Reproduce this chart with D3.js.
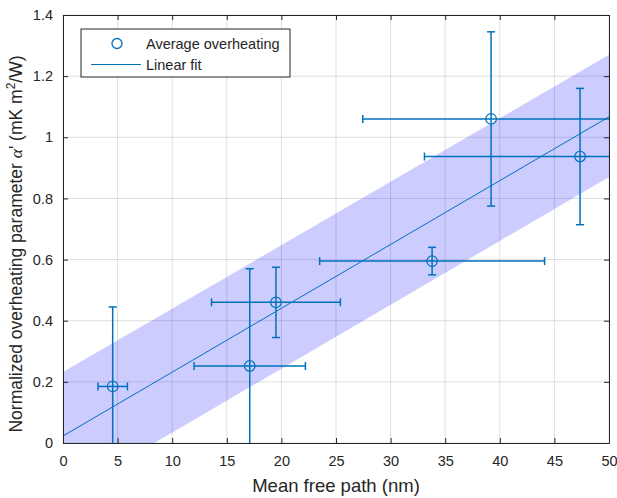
<!DOCTYPE html>
<html lang="en">
<head>
<meta charset="UTF-8">
<title>Overheating vs mean free path</title>
<script src="https://cdn.jsdelivr.net/npm/d3@7"></script>
<style>
*{margin:0; padding:0;}
body{background:#fff;}
text{font-family:"Liberation Sans", Arial, sans-serif; fill:#262626;}
.grid line{stroke:#000; stroke-opacity:.13;}
.axis path, .axis line{stroke:#262626;}
</style>
</head>
<body>
<script>
// measured points
var mfp      = [4.55, 17.1, 19.5, 33.8, 39.2, 47.35];
var alpha    = [0.185, 0.252, 0.46, 0.595, 1.06, 0.937];
var mfpErr   = [1.35, 5.1, 5.9, 10.3, 11.75, 14.25];
var alphaErr = [0.26, 0.318, 0.115, 0.045, 0.285, 0.223];

// linear fit and its confidence band
var fitX     = [0, 50];
var fitY     = [0.023, 1.067];
var bandLow  = [-0.175, 0.87];
var bandHigh = [0.232, 1.27];

var xTicks = [0, 5, 10, 15, 20, 25, 30, 35, 40, 45, 50];
var yTicks = [0, 0.2, 0.4, 0.6, 0.8, 1, 1.2, 1.4];

var width = 617, height = 498;
var m = {left: 63, top: 15, right: 8, bottom: 55};
var w = width - m.left - m.right, h = height - m.top - m.bottom;
var blue = "#0072BD";

var svg = d3.select("body").append("svg")
	.attr("width", width)
	.attr("height", height);

svg.append("defs").append("clipPath").attr("id", "clip")
	.append("rect").attr("width", w).attr("height", h);

var g = svg.append("g").attr("transform", "translate(" + m.left + "," + m.top + ")");

var x = d3.scaleLinear().domain([0, 50]).range([0, w]);
var y = d3.scaleLinear().domain([0, 1.4]).range([h, 0]);

// grid
var grid = g.append("g").attr("class", "grid");
grid.selectAll(".gx").data(xTicks).enter().append("line")
	.attr("x1", x).attr("x2", x).attr("y1", 0).attr("y2", h);
grid.selectAll(".gy").data(yTicks).enter().append("line")
	.attr("y1", y).attr("y2", y).attr("x1", 0).attr("x2", w);

var plot = g.append("g").attr("clip-path", "url(#clip)");

// band
var band = fitX.map(function(d, i){ return {x: d, lo: bandLow[i], hi: bandHigh[i]}; });
plot.append("path")
	.datum(band)
	.attr("fill", "#0000ff")
	.attr("fill-opacity", 0.2)
	.attr("d", d3.area().x(function(d){ return x(d.x); })
		.y0(function(d){ return y(d.lo); })
		.y1(function(d){ return y(d.hi); }));

// fit line
plot.append("path")
	.datum(fitX.map(function(d, i){ return [d, fitY[i]]; }))
	.attr("fill", "none")
	.attr("stroke", blue)
	.attr("stroke-width", 1)
	.attr("d", d3.line().x(function(d){ return x(d[0]); }).y(function(d){ return y(d[1]); }));

// error bars
var pts = mfp.map(function(d, i){
	return {x: d, y: alpha[i], ex: mfpErr[i], ey: alphaErr[i]};
});
var eb = plot.selectAll(".eb").data(pts).enter().append("g")
	.attr("stroke", blue).attr("stroke-width", 1.5).attr("fill", "none");
var cap = 4;
eb.append("line")
	.attr("x1", function(d){ return x(d.x); }).attr("x2", function(d){ return x(d.x); })
	.attr("y1", function(d){ return y(d.y - d.ey); }).attr("y2", function(d){ return y(d.y + d.ey); });
eb.append("line")
	.attr("y1", function(d){ return y(d.y); }).attr("y2", function(d){ return y(d.y); })
	.attr("x1", function(d){ return x(d.x - d.ex); }).attr("x2", function(d){ return x(d.x + d.ex); });
[-1, 1].forEach(function(s){
	eb.append("line")
		.attr("x1", function(d){ return x(d.x) - cap; }).attr("x2", function(d){ return x(d.x) + cap; })
		.attr("y1", function(d){ return y(d.y + s*d.ey); }).attr("y2", function(d){ return y(d.y + s*d.ey); });
	eb.append("line")
		.attr("y1", function(d){ return y(d.y) - cap; }).attr("y2", function(d){ return y(d.y) + cap; })
		.attr("x1", function(d){ return x(d.x + s*d.ex); }).attr("x2", function(d){ return x(d.x + s*d.ex); });
});
eb.append("circle")
	.attr("cx", function(d){ return x(d.x); })
	.attr("cy", function(d){ return y(d.y); })
	.attr("r", 5.3).attr("stroke-width", 1.2);

// axes (box with inward ticks)
function fmt(d){ return d3.format("~g")(d); }
var ax = [
	{a: d3.axisBottom(x).tickValues(xTicks).tickFormat(fmt).tickSizeInner(-5).tickSizeOuter(0), t: "translate(0," + h + ")"},
	{a: d3.axisTop(x).tickValues(xTicks).tickFormat("").tickSizeInner(-5).tickSizeOuter(0), t: "translate(0,0)"},
	{a: d3.axisLeft(y).tickValues(yTicks).tickFormat(fmt).tickSizeInner(-5).tickSizeOuter(0), t: "translate(0,0)"},
	{a: d3.axisRight(y).tickValues(yTicks).tickFormat("").tickSizeInner(-5).tickSizeOuter(0), t: "translate(" + w + ",0)"}
];
var axg = ax.map(function(o){
	var s = g.append("g").attr("class", "axis").attr("transform", o.t).call(o.a);
	s.selectAll("text").style("font-size", "14.5px");
	return s;
});
axg[0].selectAll("text").attr("y", 13).attr("dy", "0.71em");
axg[2].selectAll("text").attr("x", -10);

// axis labels
svg.append("text")
	.attr("x", m.left + w/2).attr("y", 492)
	.attr("text-anchor", "middle")
	.style("font-size", "18.5px")
	.text("Mean free path (nm)");

var yl = svg.append("text")
	.attr("transform", "translate(22,244) rotate(-90)")
	.attr("text-anchor", "middle")
	.style("font-size", "17.5px");
yl.append("tspan").text("Normalized overheating parameter ");
yl.append("tspan").style("font-family", "'Liberation Serif', serif").style("font-style", "italic").text("α");
yl.append("tspan").text("' (mK m");
yl.append("tspan").attr("dy", -7).style("font-size", "12px").text("2");
yl.append("tspan").attr("dy", 7).text("/W)");

// legend
var lg = svg.append("g").attr("transform", "translate(81,29)");
lg.append("rect").attr("width", 209).attr("height", 48)
	.attr("fill", "#fff").attr("stroke", "#262626").attr("stroke-width", 1);
lg.append("circle").attr("cx", 36).attr("cy", 14.5).attr("r", 5)
	.attr("fill", "none").attr("stroke", blue).attr("stroke-width", 1.3);
lg.append("line").attr("x1", 10).attr("x2", 60).attr("y1", 35.5).attr("y2", 35.5)
	.attr("stroke", blue).attr("stroke-width", 1);
lg.append("text").attr("x", 65).attr("y", 19.5).style("font-size", "14.5px").text("Average overheating");
lg.append("text").attr("x", 65).attr("y", 40.5).style("font-size", "14.5px").text("Linear fit");
</script>
</body>
</html>
